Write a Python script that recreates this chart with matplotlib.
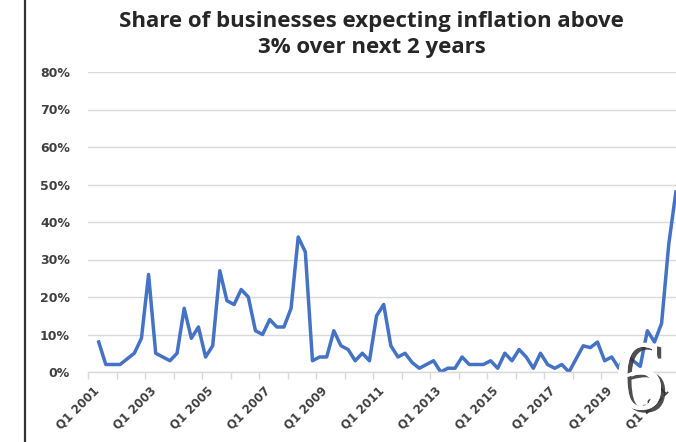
import numpy as np
import matplotlib
matplotlib.use("Agg")
import matplotlib.pyplot as plt
import matplotlib.patheffects as pe
from matplotlib.lines import Line2D

# quarterly categories, Q1 2001 onwards (picture is cropped after Q3 2021)
quarters = [f"Q{q} {y}" for y in range(2001, 2022) for q in range(1, 5)][:83]

# share of businesses (%) expecting inflation above 3%
share = [np.nan, 8, 2, 2, 2, 3.5, 5, 9, 26, 5,
         4, 3, 5, 17, 9, 12, 4, 7, 27, 19,
         18, 22, 20, 11, 10, 14, 12, 12, 17, 36,
         32, 3, 4, 4, 11, 7, 6, 3, 5, 3,
         15, 18, 7, 4, 5, 2.5, 1, 2, 3, 0,
         1, 1, 4, 2, 2, 2, 3, 1, 5, 3,
         6, 4, 1, 5, 2, 1, 2, 0, 3.5, 7,
         6.5, 8, 3, 4, 1, 5, 3, 1.5, 11, 8,
         13, 34, 48]

yticks = [0, 10, 20, 30, 40, 50, 60, 70, 80]
title = "Share of businesses expecting inflation above\n3% over next 2 years"

text_col = "#404040"
grid_col = "#d9d9d9"
line_col = "#4472c4"

fig = plt.figure(figsize=(6.76, 4.42), dpi=100)
ax = fig.add_axes([88 / 676, 70 / 442, 588 / 676, 300 / 442])

x = np.arange(len(quarters))
ax.plot(x, share, color=line_col, lw=2.5, solid_joinstyle="round")

ax.set_ylim(0, 80)
ax.set_xlim(-0.5, 82.02)
ax.set_yticks(yticks)
ax.set_yticklabels([f"{v}%" for v in yticks])
ax.yaxis.grid(True, color=grid_col, lw=1)
ax.set_axisbelow(True)

for s in ["top", "right", "left"]:
    ax.spines[s].set_visible(False)
ax.spines["bottom"].set_color(grid_col)
ax.spines["bottom"].set_linewidth(1)

ax.tick_params(axis="y", length=0, pad=13, labelsize=9, labelcolor=text_col)
# tick marks between categories, every 4 quarters
ax.set_xticks(np.arange(-0.5, 83, 4))
ax.set_xticklabels([])
ax.tick_params(axis="x", which="major", length=5, color=grid_col, width=1)
for lab in ax.get_yticklabels():
    lab.set_fontweight("bold")

# category labels every 8 quarters, rotated like the original
for i in range(0, len(quarters), 8):
    ax.annotate(quarters[i], xy=(i, 0), xycoords=("data", "axes fraction"),
                xytext=(1, -9), textcoords="offset points",
                rotation=45, rotation_mode="anchor", ha="right", va="top",
                fontsize=8.5, fontweight="bold", color=text_col,
                annotation_clip=False)

fig.text(0.55, 0.975, title, ha="center", va="top", fontsize=16,
         fontweight="bold", family="Open Sans", color="#262626", linespacing=1.3)

# slide frame edge on the left
fig.add_artist(Line2D([25 / 676, 25 / 676], [0, 1], color="#333333", lw=1.6))

# slide number overlay
fig.text(639 / 676, 1 - 409 / 442, "6", ha="center", va="baseline", fontsize=72,
         family="Liberation Serif", color="white", zorder=10,
         path_effects=[pe.withSimplePatchShadow(offset=(3, -2), shadow_rgbFace="#303030", alpha=0.85),
                       pe.Normal()])

fig.savefig("out.png", dpi=100, facecolor="white")
